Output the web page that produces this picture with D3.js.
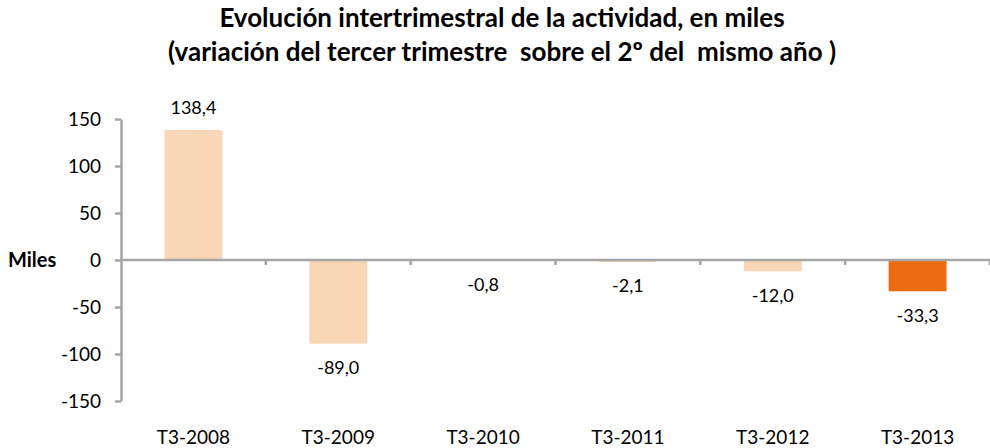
<!DOCTYPE html>
<html>
<head>
<meta charset="utf-8">
<script src="https://cdn.jsdelivr.net/npm/d3@7"></script>
<style>
  body { margin: 0; background: #fff; }
  text { font-family: Lato, 'Open Sans', sans-serif; fill: #000; }
</style>
</head>
<body>
<script>
// Chart data
const categories = ['T3-2008', 'T3-2009', 'T3-2010', 'T3-2011', 'T3-2012', 'T3-2013'];
const values = [138.4, -89.0, -0.8, -2.1, -12.0, -33.3];
const yTicks = [-150, -100, -50, 0, 50, 100, 150];
const titleLines = [
  'Evolución intertrimestral de la actividad, en miles',
  '(variación del tercer trimestre  sobre el 2º del  mismo año )'
];

const width = 990;
const height = 448;
const svg = d3.select('body').append('svg').attr('width', width).attr('height', height);

// Scales
const x = d3.scaleBand().domain(categories).range([121, 990]).paddingInner(0.6).paddingOuter(0.3);
const y = d3.scaleLinear().domain([-150, 150]).range([401, 119]);

// Title
svg
  .selectAll('.title')
  .data(titleLines)
  .enter()
  .append('text')
  .attr('class', 'title')
  .attr('x', 502)
  .attr('y', (d, i) => 27 + i * 34)
  .attr('text-anchor', 'middle')
  .style('font-size', '26px')
  .style('font-weight', 'bold')
  .style('white-space', 'pre')
  .text((d) => d);

// Bars
svg
  .selectAll('.bar')
  .data(values)
  .enter()
  .append('rect')
  .attr('class', 'bar')
  .attr('x', (d, i) => x(categories[i]))
  .attr('width', x.bandwidth())
  .attr('y', (d) => y(Math.max(0, d)))
  .attr('height', (d) => Math.abs(y(d) - y(0)))
  .attr('fill', (d, i) => (i === values.length - 1 ? '#EC6C14' : '#F9D6B5'));

// Y axis
const yAxis = svg
  .append('g')
  .attr('transform', 'translate(121,0)')
  .call(
    d3
      .axisLeft(y)
      .tickValues(yTicks)
      .tickFormat((d) => String(d))
      .tickSize(6)
      .tickPadding(14)
      .tickSizeOuter(0)
  );
yAxis.select('.domain').attr('stroke', '#A6A6A6').attr('stroke-width', 2.5);
yAxis.selectAll('.tick line').attr('stroke', '#A6A6A6').attr('stroke-width', 2.5);
yAxis.selectAll('.tick text').style('font-size', '19px').style('font-family', 'Lato, sans-serif');

// X axis at zero, ticks between categories
const step = x.step();
const boundaries = categories.map((c, i) => 121 + step * (i + 1));
svg
  .append('line')
  .attr('x1', 121)
  .attr('x2', 990)
  .attr('y1', y(0))
  .attr('y2', y(0))
  .attr('stroke', '#A6A6A6')
  .attr('stroke-width', 2.5);
svg
  .selectAll('.xtick')
  .data(boundaries)
  .enter()
  .append('line')
  .attr('x1', (d) => d)
  .attr('x2', (d) => d)
  .attr('y1', y(0))
  .attr('y2', y(0) + 5)
  .attr('stroke', '#A6A6A6')
  .attr('stroke-width', 2.5);

// Category labels
svg
  .selectAll('.cat')
  .data(categories)
  .enter()
  .append('text')
  .attr('x', (d) => x(d) + x.bandwidth() / 2)
  .attr('y', 437)
  .attr('dy', '0.35em')
  .attr('text-anchor', 'middle')
  .style('font-size', '19px')
  .text((d) => d);

// Value labels
const fmt = (v) => v.toFixed(1).replace('.', ',');
svg
  .selectAll('.val')
  .data(values)
  .enter()
  .append('text')
  .attr('x', (d, i) => x(categories[i]) + x.bandwidth() / 2)
  .attr('y', (d) => (d >= 0 ? y(d) - 22 : y(d) + 24))
  .attr('dy', '0.35em')
  .attr('text-anchor', 'middle')
  .style('font-size', '18px')
  .text((d) => fmt(d));

// Y axis title
svg
  .append('text')
  .attr('x', 8)
  .attr('y', y(0))
  .attr('dy', '0.35em')
  .style('font-size', '20px')
  .style('font-weight', 'bold')
  .text('Miles');
</script>
</body>
</html>
